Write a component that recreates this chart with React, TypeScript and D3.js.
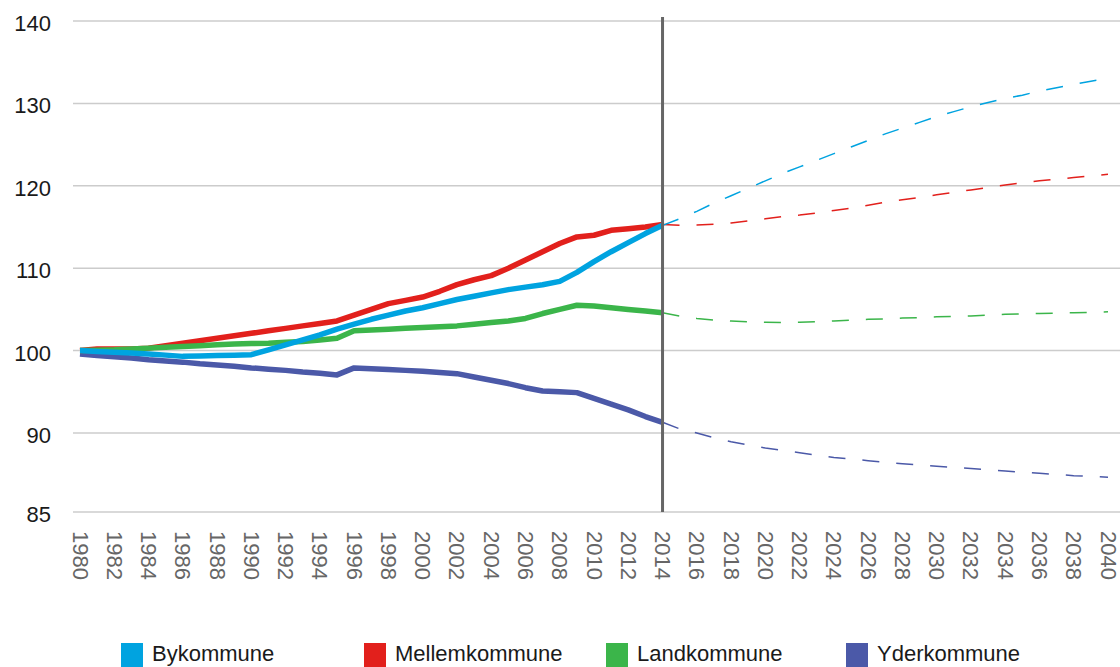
import React, { useEffect, useRef } from 'react';
import * as d3 from 'd3';

// Historical index (1980 = 100), 1980-2014
const histYears = d3.range(1980, 2015);
const bykommuneHist = [
    100, 99.9, 99.8, 99.7, 99.6, 99.45, 99.3, 99.35, 99.4, 99.45, 99.5, 100.1, 100.7, 101.3, 101.9, 102.6,
    103.2, 103.8, 104.3, 104.8, 105.2, 105.7, 106.2, 106.6, 107.0, 107.4, 107.7, 108.0, 108.4, 109.5,
    110.8, 112.0, 113.1, 114.2, 115.2,
];
const mellemkommuneHist = [
    100, 100.2, 100.2, 100.2, 100.3, 100.6, 100.9, 101.2, 101.5, 101.8, 102.1, 102.4, 102.7, 103.0, 103.3, 103.6,
    104.3, 105.0, 105.7, 106.1, 106.5, 107.2, 108.0, 108.6, 109.1, 110.0, 111.0, 112.0, 113.0, 113.8,
    114.0, 114.6, 114.8, 115.0, 115.3,
];
const landkommuneHist = [
    100, 100.05, 100.1, 100.2, 100.3, 100.4, 100.5, 100.6, 100.7, 100.8, 100.85, 100.9, 101.0, 101.1, 101.3, 101.5,
    102.4, 102.5, 102.6, 102.7, 102.8, 102.9, 103.0, 103.2, 103.4, 103.6, 103.9, 104.5, 105.0, 105.5,
    105.4, 105.2, 105.0, 104.8, 104.6,
];
const yderkommuneHist = [
    99.6, 99.4, 99.25, 99.1, 98.9, 98.75, 98.6, 98.4, 98.25, 98.1, 97.9, 97.75, 97.6, 97.4, 97.25, 97.05,
    97.9, 97.8, 97.7, 97.6, 97.5, 97.35, 97.2, 96.8, 96.4, 96.0, 95.5, 95.1, 95.0, 94.9,
    94.2, 93.5, 92.8, 92.0, 91.3,
];

// Projection, 2014-2040
const projYears = d3.range(2014, 2041);
const bykommuneProj = [
    115.2, 116.0, 116.9, 117.9, 118.8, 119.7, 120.6, 121.5, 122.3, 123.1, 123.9, 124.7, 125.5, 126.3,
    127.0, 127.7, 128.4, 129.0, 129.6, 130.1, 130.6, 131.0, 131.5, 131.9, 132.3, 132.7, 133.0,
];
const mellemkommuneProj = [
    115.3, 115.2, 115.25, 115.35, 115.5, 115.75, 116.0, 116.25, 116.45, 116.7, 117.0, 117.3, 117.65, 118.0,
    118.3, 118.6, 118.9, 119.2, 119.5, 119.8, 120.1, 120.35, 120.6, 120.8, 121.0, 121.2, 121.4,
];
const landkommuneProj = [
    104.6, 104.2, 103.9, 103.7, 103.6, 103.5, 103.45, 103.4, 103.45, 103.5, 103.6, 103.7, 103.8, 103.85,
    103.95, 104.0, 104.1, 104.15, 104.2, 104.3, 104.4, 104.45, 104.5, 104.55, 104.6, 104.65, 104.7,
];
const yderkommuneProj = [
    91.3, 90.5, 90.0, 89.7, 89.45, 89.25, 89.05, 88.9, 88.75, 88.6, 88.45, 88.35, 88.25, 88.15,
    88.05, 87.97, 87.9, 87.82, 87.75, 87.68, 87.6, 87.52, 87.45, 87.38, 87.3, 87.25, 87.2,
];

const seriesNames = ['Bykommune', 'Mellemkommune', 'Landkommune', 'Yderkommune'];
const seriesColors = ['#00a3e0', '#e2201c', '#3bb54a', '#4b59a8'];
const yTicks = [85, 90, 100, 110, 120, 130, 140];
const xTicks = d3.range(1980, 2041, 2);
const splitYear = 2014;

const App: React.FC = () => {
    const chartRef = useRef<SVGSVGElement>(null);

    useEffect(() => {
        if (!chartRef.current) return;
        const svg = d3.select(chartRef.current);
        svg.selectAll('*').remove();

        const font = '"Liberation Sans", Arial, Helvetica, sans-serif';

        const x = d3.scaleLinear().domain([1980, 2040]).range([80, 1108]);
        // bottom step (85-90) is drawn with the same height as the 10-unit steps
        const y = d3.scaleLinear().domain([85, 90, 140]).range([512, 433, 21]);

        // grid
        svg.selectAll('line.grid')
            .data(yTicks)
            .enter()
            .append('line')
            .attr('x1', 73)
            .attr('x2', 1120)
            .attr('y1', d => y(d))
            .attr('y2', d => y(d))
            .attr('stroke', '#cccccc')
            .attr('stroke-width', 1.5);

        // y labels
        svg.selectAll('text.y-label')
            .data(yTicks)
            .enter()
            .append('text')
            .attr('x', 51)
            .attr('y', d => y(d) + 10)
            .attr('text-anchor', 'end')
            .attr('font-family', font)
            .attr('font-size', '22px')
            .attr('fill', '#1a1a1a')
            .text(d => d);

        // x labels, rotated
        svg.selectAll('text.x-label')
            .data(xTicks)
            .enter()
            .append('text')
            .attr('transform', d => `translate(${x(d)},531) rotate(90)`)
            .attr('text-anchor', 'start')
            .attr('dominant-baseline', 'central')
            .attr('font-family', font)
            .attr('font-size', '22px')
            .attr('fill', '#666666')
            .text(d => d);

        const hist = [bykommuneHist, mellemkommuneHist, landkommuneHist, yderkommuneHist];
        const proj = [bykommuneProj, mellemkommuneProj, landkommuneProj, yderkommuneProj];

        const line = d3.line<[number, number]>()
            .x(d => x(d[0]))
            .y(d => y(d[1]));

        // projections (thin dashed)
        [3, 2, 1, 0].forEach(i => {
            svg.append('path')
                .attr('d', line(projYears.map((yr, j) => [yr, proj[i][j]]) as [number, number][]))
                .attr('fill', 'none')
                .attr('stroke', seriesColors[i])
                .attr('stroke-width', 1.5)
                .attr('stroke-dasharray', '17,17');
        });

        // history (thick solid)
        [3, 1, 2, 0].forEach(i => {
            svg.append('path')
                .attr('d', line(histYears.map((yr, j) => [yr, hist[i][j]]) as [number, number][]))
                .attr('fill', 'none')
                .attr('stroke', seriesColors[i])
                .attr('stroke-width', 5.5)
                .attr('stroke-linejoin', 'round');
        });

        // 2014 divider
        svg.append('line')
            .attr('x1', x(splitYear))
            .attr('x2', x(splitYear))
            .attr('y1', 17)
            .attr('y2', y(85))
            .attr('stroke', '#666666')
            .attr('stroke-width', 3);

        // legend
        const legendX = [121, 364, 606, 846];
        const legend = svg.selectAll('g.legend')
            .data(seriesNames)
            .enter()
            .append('g')
            .attr('transform', (d, i) => `translate(${legendX[i]},643)`);

        legend.append('rect')
            .attr('width', 22)
            .attr('height', 26)
            .attr('fill', (d, i) => seriesColors[i]);

        legend.append('text')
            .attr('x', 31)
            .attr('y', 18)
            .attr('font-family', font)
            .attr('font-size', '22px')
            .attr('fill', '#1a1a1a')
            .text(d => d);
    }, []);

    return (
        <svg
            ref={chartRef}
            width={1120}
            height={667}
            style={{ position: 'absolute', left: 0, top: 0, background: '#ffffff' }}
        ></svg>
    );
};

export default App;
